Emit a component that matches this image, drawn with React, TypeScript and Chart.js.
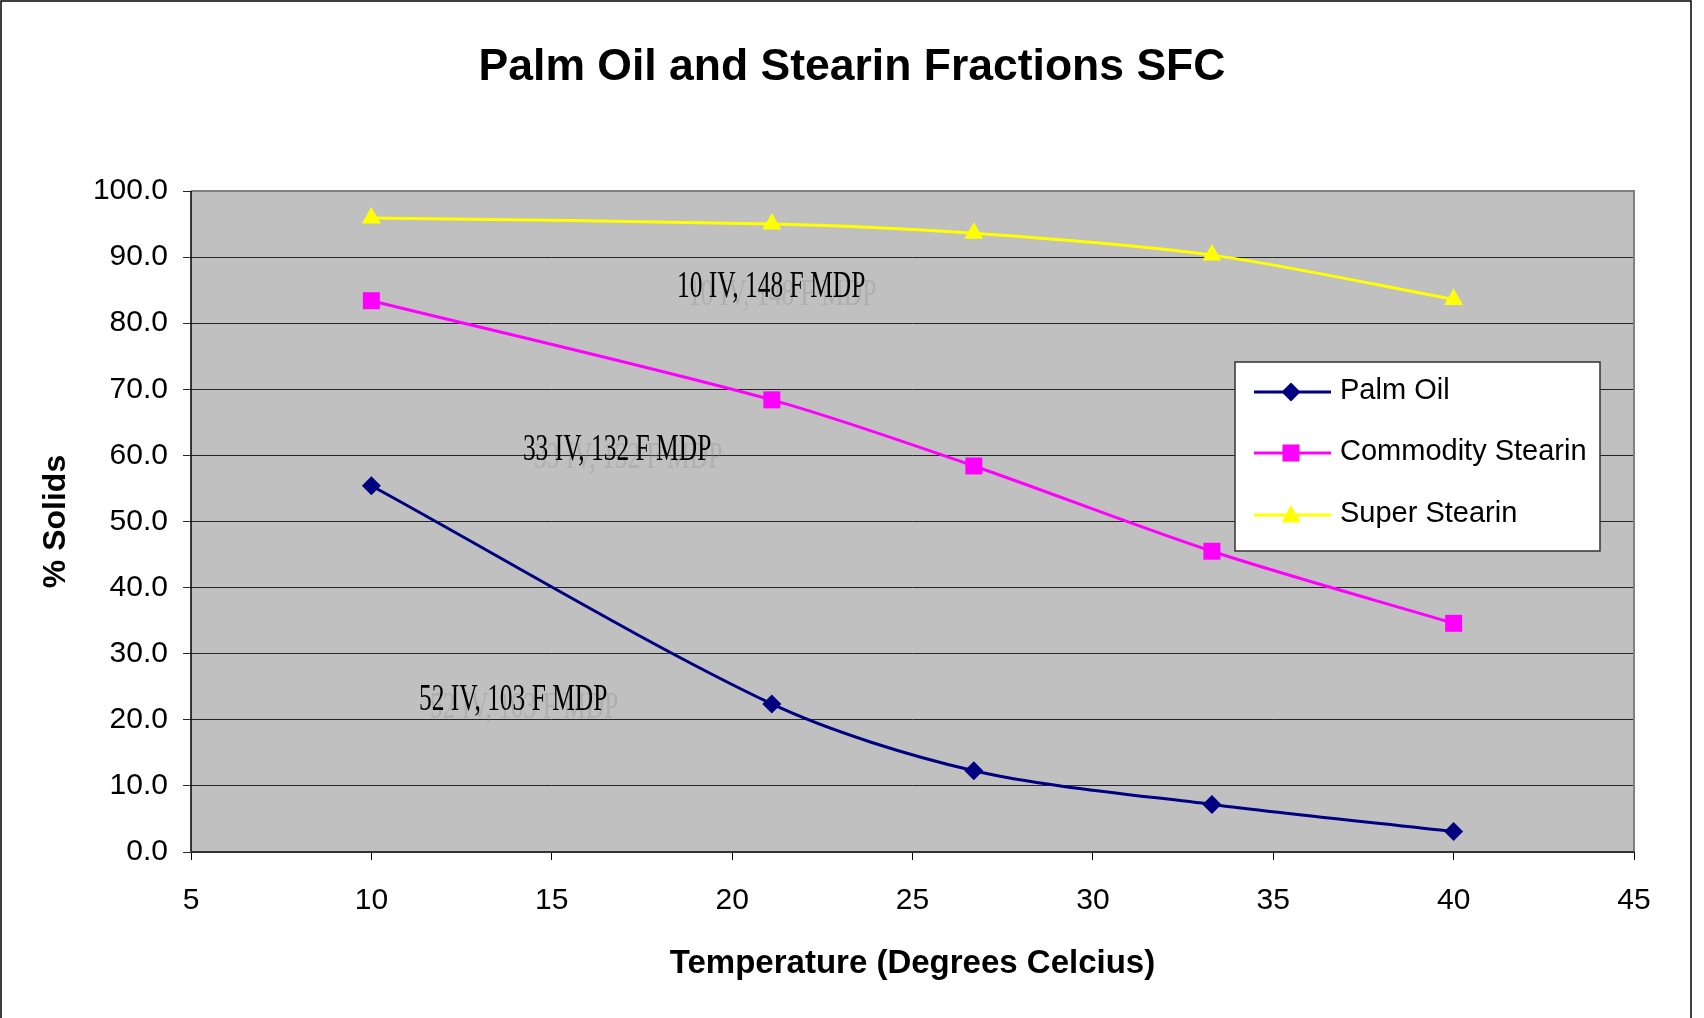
import React, { useEffect, useRef } from "react";
import { Chart, registerables } from "chart.js";

Chart.register(...registerables);

// ---- Data ----
const temperatures = [10, 21.1, 26.7, 33.3, 40];
const palmOil = [55.4, 22.4, 12.3, 7.2, 3.1];
const commodityStearin = [83.4, 68.4, 58.4, 45.5, 34.6];
const superStearin = [95.9, 95.0, 93.6, 90.3, 83.6];
const seriesNames = ["Palm Oil", "Commodity Stearin", "Super Stearin"];
const xRange = [5, 45, 5];
const yRange = [0, 100, 10];
const chartTitle = "Palm Oil and Stearin Fractions SFC";
const xTitle = "Temperature (Degrees Celcius)";
const yTitle = "% Solids";
const annotationTexts = ["10 IV, 148 F MDP", "33 IV, 132 F MDP", "52 IV, 103 F MDP"];
// anchor (left, baseline) in data units
const annotationX = [18.47, 14.2, 11.32];
const annotationY = [83.96, 59.3, 21.48];

const SANS = "'Liberation Sans', Arial, sans-serif";
const SERIF = "'Liberation Serif', 'Times New Roman', serif";

const colors = ["#000080", "#FF00FF", "#FFFF00"];
const styles = ["rectRot", "rect", "triangle"];
const radii = [9.5, 12, 11];

function drawMarker(ctx: CanvasRenderingContext2D, style: string, cx: number, cy: number, color: string) {
  ctx.save();
  ctx.fillStyle = color;
  ctx.beginPath();
  if (style === "rectRot") {
    const r = 9.5;
    ctx.moveTo(cx, cy - r);
    ctx.lineTo(cx + r, cy);
    ctx.lineTo(cx, cy + r);
    ctx.lineTo(cx - r, cy);
  } else if (style === "rect") {
    ctx.rect(cx - 8.5, cy - 8.5, 17, 17);
  } else {
    ctx.moveTo(cx, cy - 10);
    ctx.lineTo(cx + 9.5, cy + 7.5);
    ctx.lineTo(cx - 9.5, cy + 7.5);
  }
  ctx.closePath();
  ctx.fill();
  ctx.restore();
}

const backgroundPlugin = {
  id: "bg",
  beforeDraw(chart: any) {
    const { ctx, chartArea: a } = chart;
    ctx.save();
    ctx.fillStyle = "#FFFFFF";
    ctx.fillRect(0, 0, chart.width, chart.height);
    ctx.fillStyle = "#C0C0C0";
    ctx.fillRect(a.left, a.top, a.right - a.left, a.bottom - a.top);
    ctx.restore();
  },
  beforeDatasetsDraw(chart: any) {
    const { ctx, chartArea: a } = chart;
    ctx.save();
    ctx.strokeStyle = "#808080";
    ctx.lineWidth = 2;
    ctx.beginPath();
    ctx.moveTo(a.left, a.top);
    ctx.lineTo(a.right, a.top);
    ctx.lineTo(a.right, a.bottom);
    ctx.stroke();
    ctx.strokeStyle = "#000000";
    ctx.lineWidth = 1.5;
    ctx.beginPath();
    ctx.moveTo(a.left, a.top);
    ctx.lineTo(a.left, a.bottom);
    ctx.stroke();
    ctx.strokeStyle = "#333333";
    ctx.lineWidth = 2;
    ctx.beginPath();
    ctx.moveTo(a.left, a.bottom);
    ctx.lineTo(a.right, a.bottom);
    ctx.stroke();
    ctx.restore();
  },
};

const annotationPlugin = {
  id: "annotations",
  afterDatasetsDraw(chart: any) {
    const { ctx } = chart;
    const xs = chart.scales.x;
    const ys = chart.scales.y;
    ctx.save();
    ctx.font = `38px ${SERIF}`;
    ctx.textAlign = "left";
    ctx.textBaseline = "alphabetic";
    annotationTexts.forEach((t, i) => {
      const px = xs.getPixelForValue(annotationX[i]);
      const py = ys.getPixelForValue(annotationY[i]);
      // shadow
      ctx.save();
      ctx.translate(px + 11, py + 8);
      ctx.scale(0.67, 1);
      ctx.fillStyle = "rgba(140,140,140,0.32)";
      ctx.fillText(t, 0, 0);
      ctx.restore();
      ctx.save();
      ctx.translate(px, py);
      ctx.scale(0.67, 1);
      ctx.fillStyle = "#000000";
      ctx.fillText(t, 0, 0);
      ctx.restore();
    });
    ctx.restore();
  },
};

const legendPlugin = {
  id: "boxLegend",
  afterDraw(chart: any) {
    const { ctx } = chart;
    const bx = 1235, by = 362, bw = 365, bh = 189;
    ctx.save();
    ctx.fillStyle = "#FFFFFF";
    ctx.fillRect(bx, by, bw, bh);
    ctx.strokeStyle = "#333333";
    ctx.lineWidth = 1.5;
    ctx.strokeRect(bx, by, bw, bh);
    const rows = [392, 453, 515];
    chart.data.datasets.forEach((ds: any, i: number) => {
      const y = rows[i];
      ctx.strokeStyle = ds.borderColor;
      ctx.lineWidth = 3;
      ctx.beginPath();
      ctx.moveTo(1254, y);
      ctx.lineTo(1331, y);
      ctx.stroke();
      drawMarker(ctx, styles[i], 1291, y, ds.borderColor);
      ctx.fillStyle = "#000000";
      ctx.font = `29px ${SANS}`;
      ctx.textAlign = "left";
      ctx.textBaseline = "middle";
      ctx.fillText(ds.label, 1340, y - 1);
    });
    // outer chart border
    ctx.strokeStyle = "#000000";
    ctx.lineWidth = 1.5;
    ctx.beginPath();
    ctx.moveTo(1, chart.height + 5);
    ctx.lineTo(1, 1);
    ctx.lineTo(1691, 1);
    ctx.lineTo(1691, chart.height + 5);
    ctx.stroke();
    ctx.restore();
  },
};

export default function App() {
  const ref = useRef<HTMLCanvasElement | null>(null);
  useEffect(() => {
    if (!ref.current) return;
    Chart.defaults.font.family = SANS;
    const series = [palmOil, commodityStearin, superStearin];
    const chart = new Chart(ref.current, {
      type: "line",
      data: {
        datasets: series.map((vals, i) => ({
          label: seriesNames[i],
          data: temperatures.map((t, j) => ({ x: t, y: vals[j] })),
          borderColor: colors[i],
          backgroundColor: colors[i],
          borderWidth: 3,
          pointStyle: styles[i] as any,
          pointRadius: radii[i],
          pointBorderWidth: 0,
          pointBackgroundColor: colors[i],
          pointBorderColor: colors[i],
          tension: 0.3,
          fill: false,
        })),
      },
      options: {
        animation: false,
        responsive: false,
        devicePixelRatio: 1,
        layout: { padding: 0 },
        plugins: {
          legend: { display: false },
          tooltip: { enabled: false },
          title: {
            display: true,
            text: chartTitle,
            color: "#000000",
            font: { family: SANS, size: 44.5, weight: "bold" },
            padding: { top: 41.5, bottom: 96.1 },
          },
        },
        scales: {
          x: {
            type: "linear",
            min: xRange[0],
            max: xRange[1],
            ticks: {
              stepSize: xRange[2],
              color: "#000000",
              font: { size: 30 },
              padding: 23,
            },
            grid: { drawOnChartArea: false, drawTicks: true, tickLength: 8, color: "#000000" },
            border: { display: false },
            title: {
              display: true,
              text: xTitle,
              color: "#000000",
              font: { size: 33, weight: "bold" },
              padding: { top: 0, bottom: 34 },
            },
            afterFit: (s: any) => {
              s.height = 166;
            },
          },
          y: {
            type: "linear",
            min: yRange[0],
            max: yRange[1],
            ticks: {
              stepSize: yRange[2],
              color: "#000000",
              font: { size: 30 },
              padding: 15,
              callback: (v: any) => Number(v).toFixed(1),
            },
            grid: { color: "#262626", lineWidth: 1, tickLength: 8 },
            border: { display: false },
            title: {
              display: true,
              text: yTitle,
              color: "#000000",
              font: { size: 32, weight: "bold" },
              padding: { top: 37, bottom: 0 },
            },
            afterFit: (s: any) => {
              s.width = 191;
            },
          },
          y2: {
            type: "linear",
            position: "right",
            display: true,
            grid: { display: false, drawTicks: false },
            ticks: { display: false },
            border: { display: false },
            afterFit: (s: any) => {
              s.width = 70;
            },
          },
        },
      },
      plugins: [backgroundPlugin, annotationPlugin, legendPlugin],
    } as any);
    return () => chart.destroy();
  }, []);
  return (
    <div style={{ position: "fixed", left: 0, top: 0, width: 1704, height: 1018 }}>
      <canvas ref={ref} width={1704} height={1018} style={{ width: 1704, height: 1018, display: "block" }} />
    </div>
  );
}
